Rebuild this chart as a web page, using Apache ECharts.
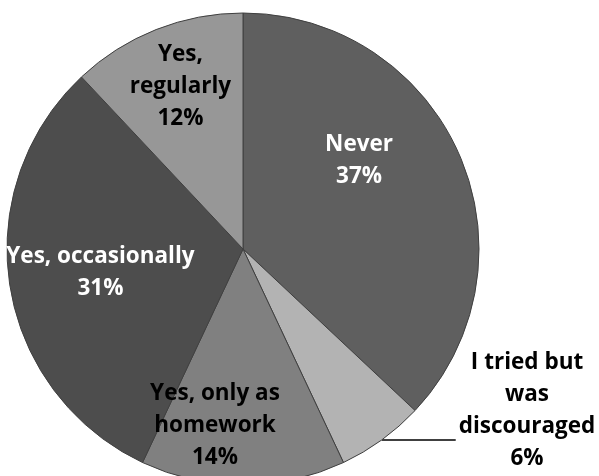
<!DOCTYPE html>
<html>
<head>
<meta charset="utf-8">
<script src="https://cdn.jsdelivr.net/npm/echarts@6/dist/echarts.min.js"></script>
<style>
html,body{margin:0;padding:0;background:#fff;}
#chart{width:599px;height:476px;}
</style>
</head>
<body>
<div id="chart"></div>
<script>
const categories = ['Never', 'I tried but\nwas\ndiscouraged', 'Yes, only as\nhomework', 'Yes, occasionally', 'Yes,\nregularly'];
const values = [37, 6, 14, 31, 12];

const colors = ['#5f5f5f', '#b3b3b3', '#808080', '#4d4d4d', '#979797'];
const labelColors = ['#ffffff', '#000000', '#000000', '#ffffff', '#000000'];
const labelShift = [
  { dx: 5, dy: -40 },
  {},
  { dx: -28, dy: 56 },
  { dx: -23, dy: 5 },
  { dx: -18, dy: -50 }
];

const FONT = '"Open Sans", "Noto Sans", sans-serif';

const data = categories.map((name, i) => {
  const item = {
    name: name,
    value: values[i],
    itemStyle: { color: colors[i] },
    label: {
      position: 'inside',
      color: labelColors[i]
    }
  };
  if (i === 1) {
    const lines = (name + '\n' + values[i] + '%').split('\n');
    item.label = {
      position: 'outside',
      alignTo: 'none',
      color: '#000',
      distanceToLabelLine: 3,
      padding: [0, 0, 58, 0],
      formatter: lines.map(l => '{c|' + l + '}').join('\n'),
      rich: {
        c: {
          align: 'center',
          fontFamily: FONT,
          fontWeight: 'bold',
          fontSize: 22.5,
          lineHeight: 32,
          color: '#000'
        }
      }
    };
    item.labelLine = {
      show: true,
      length: 0,
      length2: 74,
      lineStyle: { color: '#000', width: 1.5 }
    };
  }
  return item;
});

const chart = echarts.init(document.getElementById('chart'), null, { renderer: 'canvas' });
chart.setOption({
  animation: false,
  backgroundColor: '#ffffff',
  series: [{
    type: 'pie',
    center: [243, 249],
    radius: [0, 236],
    startAngle: 90,
    clockwise: true,
    avoidLabelOverlap: false,
    itemStyle: { borderColor: '#404040', borderWidth: 1 },
    label: {
      show: true,
      formatter: p => p.name + '\n' + p.value + '%',
      fontFamily: FONT,
      fontWeight: 'bold',
      fontSize: 22.5,
      lineHeight: 32
    },
    labelLine: { show: false },
    labelLayout: p => labelShift[p.dataIndex] || {},
    emphasis: { disabled: true },
    data: data
  }]
});
</script>
</body>
</html>
